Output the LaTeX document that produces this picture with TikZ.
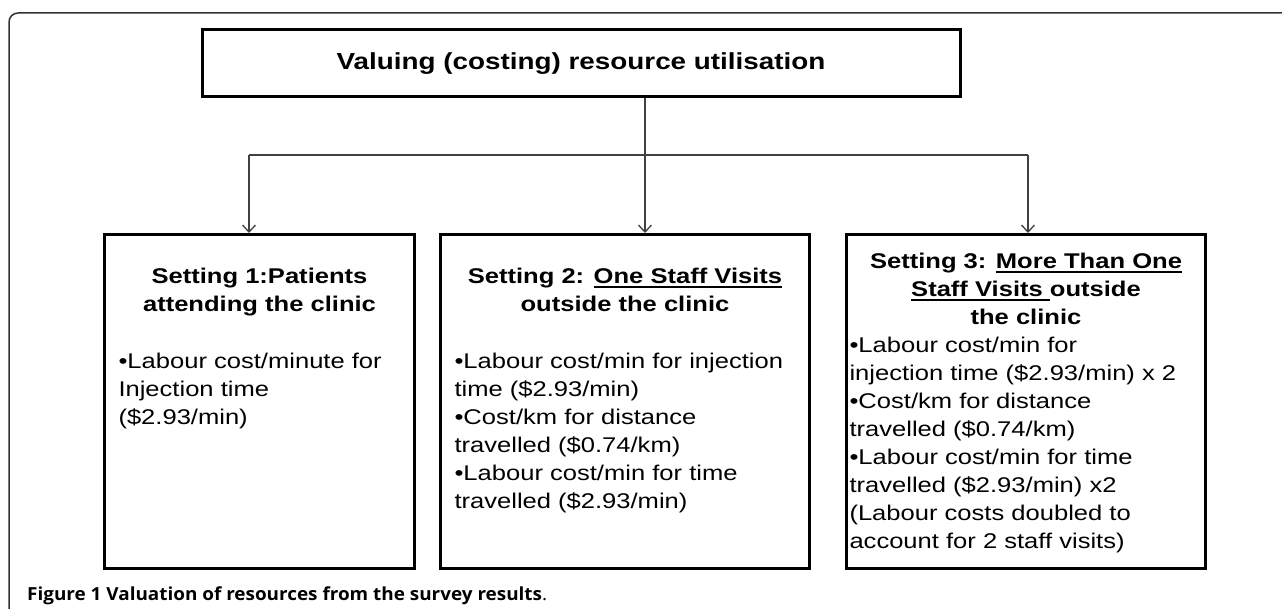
\documentclass[tikz,border=0pt]{standalone}
\usepackage{fontspec}
\newfontfamily\boxfont[FakeStretch=1.2]{Liberation Sans}
\newfontfamily\capfont{Open Sans}
\usetikzlibrary{arrows.meta}
% thick underline as in the figure
\newcommand{\ulined}[1]{\leavevmode\setbox0\hbox{#1}\rlap{\lower3.8pt\hbox{\vrule width\wd0 height 1.8pt depth 0pt}}\box0}

\begin{document}
\begin{tikzpicture}[x=1pt,y=-1pt,
  frame/.style={draw=black!80, line width=1.5pt, rounded corners=9pt},
  titlebox/.style={draw, line width=3pt, inner sep=0pt, minimum width=758pt, minimum height=67pt,
    font=\boxfont\bfseries\fontsize{23.2}{28}\selectfont},
  setbox/.style={draw, line width=3pt, inner xsep=14pt, inner ysep=0pt, anchor=north west,
    font=\boxfont\fontsize{21.3}{28}\selectfont},
  link/.style={draw=black!75, line width=1.3pt},
  >={Straight Barb[length=7pt,width=13pt]}]
\useasboundingbox (0,0) rectangle (1282,609);

\draw[frame] (9,609) -- (9,13) -- (1282,13);

\node[titlebox] (top) at (581,63.5) {Valuing (costing) resource utilisation};

\node[setbox] (s1) at (103,233) {\parbox[t][334pt][t]{282pt}{\vspace*{34pt}%
  {\centering\bfseries Setting 1:Patients\\ attending the clinic\par}
  \vspace{29pt}\raggedright
  •Labour cost/minute for\\ Injection time\\ (\$2.93/min)}};
\node[setbox] (s2) at (439,233) {\parbox[t][334pt][t]{341pt}{\vspace*{34pt}%
  {\centering\bfseries Setting 2: \ulined{One Staff Visits}\\ outside the clinic\par}
  \vspace{29pt}\raggedright
  •Labour cost/min for injection\\ time (\$2.93/min)\\
  •Cost/km for distance\\ travelled (\$0.74/km)\\
  •Labour cost/min for time\\ travelled (\$2.93/min)}};
\node[setbox, inner xsep=3pt] (s3) at (845,233) {\parbox[t][334pt][t]{353pt}{\vspace*{19pt}%
  {\centering\bfseries Setting 3: \ulined{More Than One}\\ \ulined{Staff Visits\ }outside\\ the clinic\par}
  \raggedright
  •Labour cost/min for\\ injection time (\$2.93/min) x 2\\
  •Cost/km for distance\\ travelled (\$0.74/km)\\
  •Labour cost/min for time\\ travelled (\$2.93/min) x2\\
  (Labour costs doubled to\\ account for 2 staff visits)}};

% tree connectors
\coordinate (hub) at (645,155);
\coordinate (lft) at (249,155);
\coordinate (rgt) at (1028,155);
\draw[link] (lft) -- (rgt);
\draw[link,->] (hub |- top.south) -- (hub |- s2.north);
\draw[link,->] (lft) -- (lft |- s1.north);
\draw[link,->] (rgt) -- (rgt |- s3.north);

\node[anchor=base west, inner sep=0pt, font=\capfont\fontsize{18}{20}\selectfont] (cap) at (27,600)
  {\scalebox{1.05}[1]{\textbf{Figure 1 Valuation of resources from the survey results}.}};
\end{tikzpicture}
\end{document}
